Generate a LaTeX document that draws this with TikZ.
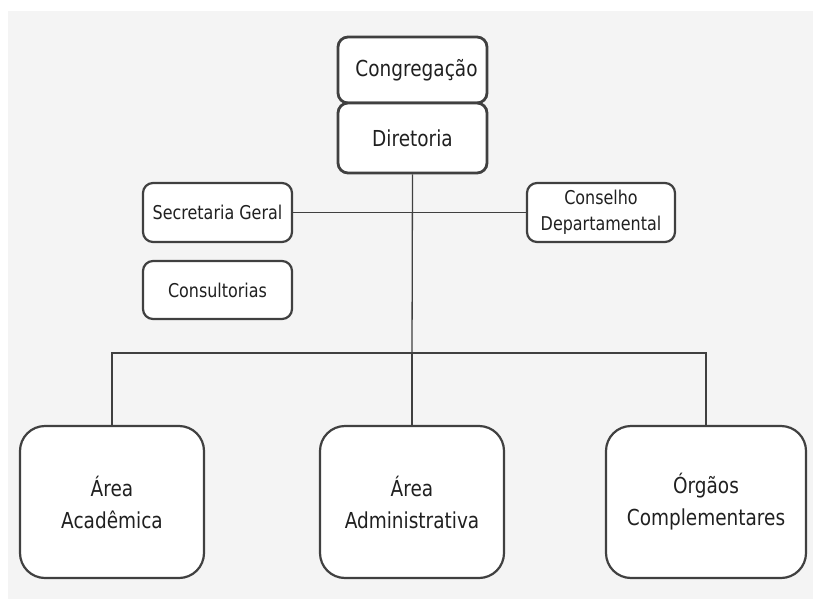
\documentclass[tikz,border=0pt]{standalone}
\usepackage{fontspec}
\setmainfont{DejaVu Sans}[FakeStretch=0.84]
\definecolor{bggray}{HTML}{F4F4F4}
\definecolor{edgegray}{HTML}{404040}
\definecolor{txtgray}{HTML}{202020}
\begin{document}
\begin{tikzpicture}[x=1pt,y=-1pt,
  box/.style={draw=edgegray,fill=white,line width=2.2pt,rounded corners=10pt,inner sep=0pt,align=center,text=txtgray},
  topbox/.style={box,line width=2.8pt,font=\fontsize{22}{26}\selectfont},
  sidebox/.style={box,font=\fontsize{19}{26}\selectfont},
  areabox/.style={box,rounded corners=25pt,minimum height=152pt,font=\fontsize{22}{32}\selectfont},
  link/.style={draw=edgegray,line width=1.3pt}]
  \useasboundingbox (0,0) rectangle (813,599);
  \fill[bggray] (8,11) rectangle (813,599);
  \node[topbox,minimum width=149pt,minimum height=66pt] (congr) at (412.5,70) {\hspace*{8pt}Congregação};
  \node[topbox,minimum width=149pt,minimum height=70pt] (diret) at (412.5,138) {Diretoria};
  \node[sidebox,minimum width=149pt,minimum height=59pt] (secr) at (217.5,212.5) {Secretaria Geral};
  \node[sidebox,minimum width=149pt,minimum height=58pt] (consult) at (217.5,290) {Consultorias};
  \node[sidebox,minimum width=148pt,minimum height=59pt] (conselho) at (601,212.5) {Conselho\\Departamental};
  \node[areabox,minimum width=184pt] (acad) at (112,502) {Área\\Acadêmica};
  \node[areabox,minimum width=184pt] (admin) at (412,502) {Área\\Administrativa};
  \node[areabox,minimum width=200pt] (orgaos) at (706,502) {Órgãos\\Complementares};
  \coordinate (bus) at (412,353);
  \draw[link] (diret.south) -- (bus);
  \draw[link] (secr.east) -- (conselho.west);
  \draw[link] (acad.north) |- (bus) -| (orgaos.north);
  \draw[link] (admin.north) -- (bus);
\end{tikzpicture}
\end{document}
